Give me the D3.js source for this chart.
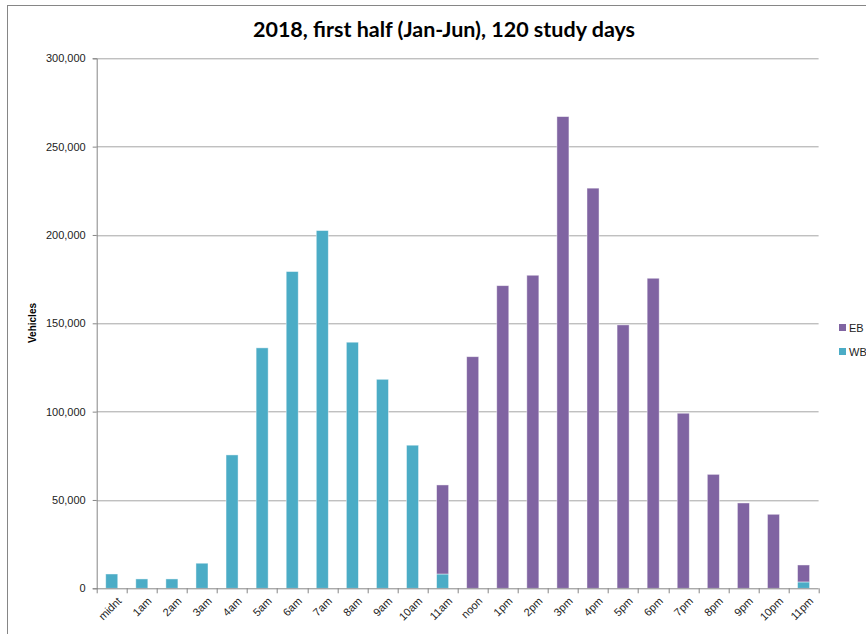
<!DOCTYPE html>
<html>
<head>
<meta charset="utf-8">
<script src="https://cdn.jsdelivr.net/npm/d3@7"></script>
<style>
  body { margin: 0; background: #fff; }
  svg { display: block; }
</style>
</head>
<body>
<div id="chart"></div>
<script>
// data
var hours = ["midnt","1am","2am","3am","4am","5am","6am","7am","8am","9am","10am","11am",
             "noon","1pm","2pm","3pm","4pm","5pm","6pm","7pm","8pm","9pm","10pm","11pm"];
var wbValues = [8100, 5300, 5300, 14200, 75500, 136100, 179300, 202500, 139300, 118300, 81000, 8100,
                0, 0, 0, 0, 0, 0, 0, 0, 0, 0, 0, 3600];
var ebValues = [0, 0, 0, 0, 0, 0, 0, 0, 0, 0, 0, 50400,
                131100, 171300, 177200, 267000, 226500, 149100, 175500, 99100, 64500, 48300, 41900, 9600];
var yTicks = [0, 50000, 100000, 150000, 200000, 250000, 300000];
var seriesKeys = ["WB", "EB"];
var colors = {WB: "#4BACC6", EB: "#8064A2"};

var W = 866, H = 634;
var margin = {top: 58.3, right: 47.4, bottom: 45.7, left: 96.7},
    width = W - margin.left - margin.right,
    height = H - margin.top - margin.bottom;

var svg = d3.select("#chart").append("svg")
    .attr("width", W)
    .attr("height", H);

// outer chart frame (only top/left visible)
svg.append("rect")
    .attr("x", 7.5).attr("y", 5.5)
    .attr("width", 1000).attr("height", 1000)
    .attr("fill", "none")
    .attr("stroke", "#868686");

var g = svg.append("g")
    .attr("transform", "translate(" + margin.left + "," + margin.top + ")");

var table = hours.map(function(h, i) {
  return {hour: h, WB: wbValues[i], EB: ebValues[i]};
});

var x = d3.scaleBand()
    .domain(hours)
    .range([0, width])
    .paddingInner(0.6)
    .paddingOuter(0.3);

var y = d3.scaleLinear()
    .domain([0, 300000])
    .range([height, 0]);

// gridlines
g.append("g")
  .selectAll("line")
  .data(yTicks.slice(1))
  .enter().append("line")
    .attr("x1", 0).attr("x2", width)
    .attr("y1", d => Math.round(y(d)) + 0.5)
    .attr("y2", d => Math.round(y(d)) + 0.5)
    .attr("stroke", "#a6a6a6")
    .attr("stroke-width", 1);

// y axis
var yAxis = g.append("g")
    .call(d3.axisLeft(y).tickValues(yTicks).tickSize(4).tickPadding(7)
      .tickFormat(d3.format(",")));
yAxis.select(".domain").attr("stroke", "#868686");
yAxis.selectAll(".tick line").attr("stroke", "#868686");
yAxis.selectAll("text")
    .attr("font-family", "Liberation Sans, Arial, sans-serif")
    .attr("font-size", 11)
    .attr("fill", "#222");

// bars
var stacked = d3.stack().keys(seriesKeys)(table);

g.append("g")
  .selectAll("g")
  .data(stacked)
  .enter().append("g")
    .attr("fill", d => colors[d.key])
  .selectAll("rect")
  .data(d => d.filter(p => p[1] - p[0] > 0))
  .enter().append("rect")
    .attr("x", d => x(d.data.hour))
    .attr("y", d => y(d[1]))
    .attr("width", x.bandwidth())
    .attr("height", d => y(d[0]) - y(d[1]))
    .attr("stroke", "#ffffff")
    .attr("stroke-opacity", 0.55)
    .attr("stroke-width", 0.8);

// x axis
var xAxis = g.append("g")
    .attr("transform", "translate(0," + height + ")");

xAxis.append("line")
    .attr("x1", 0).attr("x2", width)
    .attr("y1", 0.5).attr("y2", 0.5)
    .attr("stroke", "#868686");

var edges = hours.map(h => x(h) - x.step() * 0.3).concat([width]);
xAxis.selectAll(".xtick")
  .data(edges)
  .enter().append("line")
    .attr("class", "xtick")
    .attr("x1", d => Math.round(d) + 0.5).attr("x2", d => Math.round(d) + 0.5)
    .attr("y1", 0).attr("y2", 5)
    .attr("stroke", "#868686");

xAxis.selectAll(".xlabel")
  .data(hours)
  .enter().append("text")
    .attr("class", "xlabel")
    .attr("transform", d => "translate(" + (x(d) + x.bandwidth() / 2 + 5) + ",8) rotate(-45)")
    .attr("text-anchor", "end")
    .attr("dy", "0.7em")
    .attr("font-family", "Liberation Sans, Arial, sans-serif")
    .attr("font-size", 11)
    .attr("fill", "#222")
    .text(d => d);

// title
svg.append("text")
    .attr("x", 444)
    .attr("y", 37)
    .attr("text-anchor", "middle")
    .attr("font-family", "Lato, sans-serif")
    .attr("font-weight", "bold")
    .attr("font-size", 21.5)
    .attr("fill", "#000")
    .text("2018, first half (Jan-Jun), 120 study days");

// y axis title
svg.append("text")
    .attr("transform", "translate(36,323) rotate(-90)")
    .attr("text-anchor", "middle")
    .attr("font-family", "Liberation Sans, Arial, sans-serif")
    .attr("font-weight", "bold")
    .attr("font-size", 10)
    .attr("fill", "#000")
    .text("Vehicles");

// legend
var legend = svg.append("g")
    .selectAll("g")
    .data(["EB", "WB"])
    .enter().append("g")
    .attr("transform", (d, i) => "translate(839," + (324 + i * 24) + ")");

legend.append("rect")
    .attr("width", 7).attr("height", 7)
    .attr("fill", d => colors[d]);

legend.append("text")
    .attr("x", 10).attr("y", 7.5)
    .attr("font-family", "Liberation Sans, Arial, sans-serif")
    .attr("font-size", 11)
    .attr("fill", "#222")
    .text(d => d);
</script>
</body>
</html>
